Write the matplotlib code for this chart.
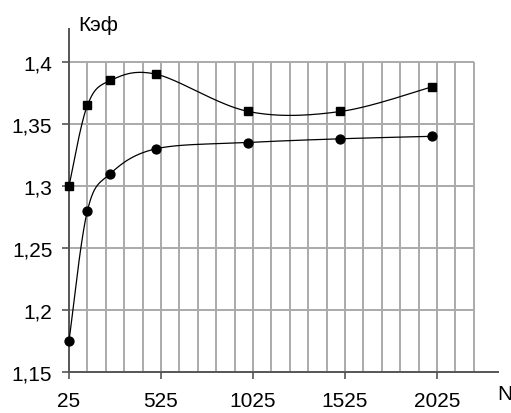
import numpy as np
import matplotlib
matplotlib.use("Agg")
import matplotlib.pyplot as plt

plt.rcParams['font.family'] = ['Liberation Sans', 'DejaVu Sans']

# Number of elements N and efficiency coefficient K for the two series
n_values = [25, 125, 250, 500, 1000, 1500, 2000]
k_squares = [1.300, 1.365, 1.385, 1.390, 1.360, 1.360, 1.380]
k_circles = [1.175, 1.280, 1.310, 1.330, 1.335, 1.338, 1.340]

x_ticks = [25, 525, 1025, 1525, 2025]
y_ticks = [1.15, 1.20, 1.25, 1.30, 1.35, 1.40]
y_tick_labels = ["1,15", "1,2", "1,25", "1,3", "1,35", "1,4"]


def smooth(xs, ys, steps=40):
    """Catmull-Rom style smoothed line through the points (spreadsheet smoothing)."""
    p = np.column_stack([xs, ys]).astype(float)
    n = len(p)
    out = []
    for i in range(n - 1):
        p0 = p[i - 1] if i > 0 else p[i]
        p1 = p[i]
        p2 = p[i + 1]
        p3 = p[i + 2] if i + 2 < n else p[i + 1]
        c1 = p1 + (p2 - p0) / 6.0
        c2 = p2 - (p3 - p1) / 6.0
        t = np.linspace(0, 1, steps)[:, None]
        seg = ((1 - t) ** 3) * p1 + 3 * ((1 - t) ** 2) * t * c1 + 3 * (1 - t) * t ** 2 * c2 + t ** 3 * p2
        out.append(seg if i == 0 else seg[1:])
    seg = np.vstack(out)
    return seg[:, 0], seg[:, 1]


fig = plt.figure(figsize=(5.11, 4.14), dpi=100)
ax = fig.add_axes([69 / 511, 1 - 373 / 414, (498 - 69) / 511, (373 - 30) / 414])

x_min, x_max = 25, 2356
y_min, y_max = 1.15, 1.4265
grid_x_end = 2225
ax.set_xlim(x_min, x_max)
ax.set_ylim(y_min, y_max)

grid_col = "#aaaaaa"
# vertical grid every 100 units, horizontal grid at every y tick
ax.vlines(np.arange(125, grid_x_end + 1, 100), y_min, 1.40, color=grid_col, lw=1.4, zorder=1)
ax.hlines(y_ticks[1:], x_min, grid_x_end, color=grid_col, lw=1.4, zorder=1)

for xs, ys, mk, ms in [(n_values, k_squares, 's', 6.2), (n_values, k_circles, 'o', 6.4)]:
    sx, sy = smooth(xs, ys)
    ax.plot(sx, sy, color="black", lw=0.9, zorder=3)
    ax.plot(xs, ys, ls="none", marker=mk, ms=ms, color="black", zorder=4, clip_on=False)

for side in ("top", "right"):
    ax.spines[side].set_visible(False)
for side in ("left", "bottom"):
    ax.spines[side].set_color("#555555")
    ax.spines[side].set_linewidth(1.4)

ax.set_xticks(x_ticks)
ax.set_xticklabels([str(v) for v in x_ticks])
ax.set_yticks(y_ticks)
ax.set_yticklabels(y_tick_labels)
ax.tick_params(axis="both", direction="out", length=5, width=1.2, color="#555555",
               labelsize=15, labelcolor="black")
ax.tick_params(axis="x", pad=9)
ax.tick_params(axis="y", pad=7)

fig.text(78 / 511, 1 - 31 / 414, "Кэф", fontsize=15, ha="left", va="baseline")
fig.text(497 / 511, 1 - 400 / 414, "N", fontsize=15, ha="left", va="baseline")

fig.savefig("out.png", dpi=100, facecolor="white")
